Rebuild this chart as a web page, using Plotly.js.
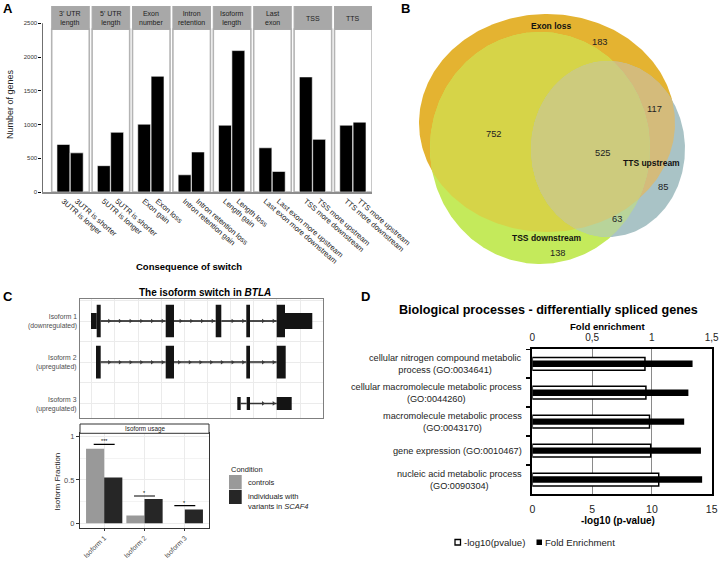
<!DOCTYPE html>
<html><head><meta charset="utf-8">
<script src="https://cdn.plot.ly/plotly-3.0.1.min.js"></script>
<style>html,body{margin:0;padding:0;background:#fff}#chart{width:721px;height:561px}</style>
</head><body><div id="chart"></div>
<script>
// ---------------- DATA ----------------
// Panel A
const switchTypes = ["3' UTR<br>length","5' UTR<br>length","Exon<br>number","Intron<br>retention","Isoform<br>length","Last<br>exon","TSS","TTS"];
const consequenceFirst = ["3UTR is longer","5UTR is longer","Exon gain","Intron retention gain","Length gain","Last exon more downstream","TSS more downstream","TTS more downstream"];
const consequenceSecond = ["3UTR is shorter","5UTR is shorter","Exon loss","Intron retention loss","Length loss","Last exon more upstream","TSS more upstream","TTS more upstream"];
const genesFirst = [705, 390, 1005, 255, 990, 655, 1705, 990];
const genesSecond = [580, 885, 1715, 593, 2095, 305, 780, 1035];
const genesTicks = [0, 500, 1000, 1500, 2000, 2500];

// Panel B (Venn)
const vennSetNames = ["Exon loss", "TSS downstream", "TTS upstream"];
const vennRegionSets = [[0], [1], [2], [0,1], [0,2], [1,2], [0,1,2]];
const vennRegionCounts = [183, 138, 85, 752, 117, 63, 525];

// Panel C
const isoformNames = ["Isoform 1", "Isoform 2", "Isoform 3"];
const isoformStatus = ["(downregulated)", "(upregulated)", "(upregulated)"];
const iso1ExonStart = [11, 16.7, 85.7, 135.7, 166.3, 196.7, 205];
const iso1ExonEnd   = [16.7, 20.7, 94, 141.3, 170, 205, 232.3];
const iso1ExonKind  = ["utr","cds","cds","cds","cds","cds","utr"];
const iso2ExonStart = [16, 85.7, 166.3, 196.7];
const iso2ExonEnd   = [20.7, 94, 170, 205.7];
const iso2ExonKind  = ["cds","cds","cds","cds"];
const iso3ExonStart = [157.3, 166.7, 196.7];
const iso3ExonEnd   = [160.7, 170, 211.7];
const iso3ExonKind  = ["nc","nc","nc"];
const conditions = ["controls", "individuals with<br>variants in <i>SCAF4</i>"];
const usageControls = [0.86, 0.09, 0.0];
const usageScaf4 = [0.53, 0.28, 0.16];
const sigLabels = ["***", "*", "*"];
const sigHeights = [0.91, 0.315, 0.203];

// Panel D
const goIds = ["GO:0034641","GO:0044260","GO:0043170","GO:0010467","GO:0090304"];
const goTerms = ["cellular nitrogen compound metabolic<br>process (GO:0034641)",
                 "cellular macromolecule metabolic process<br>(GO:0044260)",
                 "macromolecule metabolic process<br>(GO:0043170)",
                 "gene expression (GO:0010467)",
                 "nucleic acid metabolic process<br>(GO:0090304)"];
const negLog10P = [9.42, 9.5, 9.8, 9.9, 10.57];
const foldEnrichment = [1.34, 1.305, 1.27, 1.41, 1.42];
const pTicks = [0, 5, 10, 15];
const foldTicks = [0, 0.5, 1, 1.5];
const foldTickText = ["0", "0,5", "1", "1,5"];

// ---------------- LAYOUT HELPERS ----------------
const W = 721, H = 561;
const px = v => v / W;
const py = v => 1 - v / H;
const FONT = 'Liberation Sans, Arial, Helvetica, sans-serif';
const traces = [], shapes = [], ann = [];
function note(text, x, y, size, opts) {
  const o = Object.assign({xanchor:'center', yanchor:'middle', color:'#000', xref:'paper', yref:'paper', align:'center'}, opts || {});
  ann.push({text, x: o.xref === 'paper' ? px(x) : x, y: o.yref === 'paper' ? py(y) : y,
    xref:o.xref, yref:o.yref, showarrow:false, xanchor:o.xanchor, yanchor:o.yanchor, align:o.align,
    textangle: o.textangle || 0, font:{family:FONT, size, color:o.color}});
}

// ---------------- PANEL A ----------------
const aLeft = 51.7, aUnit = 40.4, aScale = 0.0675;
const facetW = 0.93, off1 = 0.29, off2 = 0.62;
const headBottom = (192 - 29.3) / aScale, aTop = (192 - 6) / aScale;
const xFirst = switchTypes.map((_, i) => i + off1);
const xSecond = switchTypes.map((_, i) => i + off2);
traces.push({type:'bar', x:xFirst, y:genesFirst, width:0.32, xaxis:'x', yaxis:'y',
  marker:{color:'#000', line:{color:'#fff', width:0.6}}, hoverinfo:'skip', showlegend:false});
traces.push({type:'bar', x:xSecond, y:genesSecond, width:0.32, xaxis:'x', yaxis:'y',
  marker:{color:'#000', line:{color:'#fff', width:0.6}}, hoverinfo:'skip', showlegend:false});
switchTypes.forEach((name, i) => {
  shapes.push({type:'rect', xref:'x', yref:'y', x0:i, x1:i+facetW, y0:0, y1:headBottom,
    line:{color:'#b4b4b4', width:1.6}, fillcolor:'#fff', layer:'below'});
  shapes.push({type:'rect', xref:'x', yref:'y', x0:i, x1:i+facetW, y0:headBottom, y1:aTop,
    line:{color:'#a9a9a9', width:1}, fillcolor:'#a8a8a8', layer:'below'});
  note(name, i + facetW/2, (192 - 18.2) / aScale, 7, {xref:'x', yref:'y', color:'#222'});
});
shapes.push({type:'line', xref:'x', yref:'y', x0:(42.3-aLeft)/aUnit, x1:(42.3-aLeft)/aUnit, y0:0, y1:2500,
  line:{color:'#000', width:1}});
note('Number of genes', 10, 104, 9, {textangle:-90, color:'#222'});
note('<b>Consequence of switch</b>', 189, 266, 9.5);
note('<b>A</b>', 8, 8, 13);

// ---------------- PANEL B (Venn) ----------------
const vennShape = [{cx:547, cy:123, rx:128, ry:109}, {cx:540, cy:148, rx:110, ry:116}, {cx:608, cy:149, rx:77, ry:88}];
const vennColors = ['#E4B331', '#C4EA5B', '#A9C3C6', '#D6D448', '#D4BB7B', '#B8D49A', '#CDCB7D'];
function ellPts(e, n) { const p = []; for (let k = 0; k < n; k++) { const t = 2*Math.PI*k/n; p.push([e.cx + e.rx*Math.cos(t), e.cy + e.ry*Math.sin(t)]); } return p; }
function inside(e, p) { const dx = (p[0]-e.cx)/e.rx, dy = (p[1]-e.cy)/e.ry; return dx*dx + dy*dy <= 1.0000001; }
function regionPoly(idx) {
  let pts = [];
  idx.forEach(i => ellPts(vennShape[i], 360).forEach(p => { if (idx.every(j => j === i || inside(vennShape[j], p))) pts.push(p); }));
  const mx = pts.reduce((s,p)=>s+p[0],0)/pts.length, my = pts.reduce((s,p)=>s+p[1],0)/pts.length;
  pts.sort((a,b) => Math.atan2(a[1]-my, a[0]-mx) - Math.atan2(b[1]-my, b[0]-mx));
  pts.push(pts[0]);
  return pts;
}
vennRegionSets.forEach((set, r) => {
  const poly = regionPoly(set);
  traces.push({type:'scatter', mode:'lines', x:poly.map(p=>p[0]), y:poly.map(p=>p[1]), fill:'toself',
    fillcolor:vennColors[r], line:{width:0, color:vennColors[r]}, xaxis:'x2', yaxis:'y2', hoverinfo:'skip', showlegend:false});
});
const vennCountPos = [[600,42],[558,253],[663,187],[494,134],[654,109],[617,219],[603,153]];
vennRegionCounts.forEach((c, r) => note(String(c), vennCountPos[r][0], vennCountPos[r][1], 9.3, {xref:'x2', yref:'y2', color:'#222'}));
const vennSetPos = [[551,26],[546,238],[651,163]];
vennSetNames.forEach((s, i) => note('<b>' + s + '</b>', vennSetPos[i][0], vennSetPos[i][1], 8.5, {xref:'x2', yref:'y2', color:'#111'}));
note('<b>B</b>', 405, 8, 13);

// ---------------- PANEL C (gene models) ----------------
const rowH = {cds:0.397, utr:0.194, nc:0.158};
const isoExons = [[iso1ExonStart, iso1ExonEnd, iso1ExonKind], [iso2ExonStart, iso2ExonEnd, iso2ExonKind], [iso3ExonStart, iso3ExonEnd, iso3ExonKind]];
const intronStyle = [{color:'#111', width:1.3}, {color:'#5c5c5c', width:2.2}, {color:'#333', width:1.5}];
isoExons.forEach(([st, en, kd], row) => {
  const lx = [], ly = [], ax = [];
  for (let k = 0; k < st.length - 1; k++) {
    const a = en[k], b = st[k+1];
    if (b - a > 1) {
      lx.push(a, b, null); ly.push(row, row, null);
      for (let x = b - 3; x > a + 4; x -= 10.7) ax.push(x);
    }
  }
  traces.push({type:'scatter', mode:'lines', x:lx, y:ly, line:intronStyle[row], xaxis:'x3', yaxis:'y3', hoverinfo:'skip', showlegend:false});
  traces.push({type:'scatter', mode:'markers', x:ax, y:ax.map(()=>row), marker:{symbol:'triangle-right', size:4, color:'#3a3a3a'},
    xaxis:'x3', yaxis:'y3', hoverinfo:'skip', showlegend:false});
  st.forEach((s, k) => shapes.push({type:'rect', xref:'x3', yref:'y3', x0:s, x1:en[k], y0:row - rowH[kd[k]], y1:row + rowH[kd[k]],
    fillcolor:'#141414', line:{width:0}}));
  note(isoformNames[row] + '<br>' + isoformStatus[row], 79, 321.7 + 41.2*row, 6.8, {xanchor:'right', align:'right', color:'#4d4d4d'});
});
note('<b>The isoform switch in <i>BTLA</i></b>', 205, 292.5, 10);
note('<b>C</b>', 8, 296, 13);

// ---------------- PANEL C (usage) ----------------
traces.push({type:'bar', x:isoformNames, y:usageControls, offset:-0.45, width:0.45, marker:{color:'#999999'},
  xaxis:'x4', yaxis:'y4', hoverinfo:'skip', showlegend:false});
traces.push({type:'bar', x:isoformNames, y:usageScaf4, offset:0, width:0.45, marker:{color:'#262626'},
  xaxis:'x4', yaxis:'y4', hoverinfo:'skip', showlegend:false});
sigHeights.forEach((h, i) => {
  shapes.push({type:'line', xref:'x4', yref:'y4', x0:i-0.26, x1:i+0.26, y0:h, y1:h, line:{color:'#000', width:1.2}});
  note(sigLabels[i], i, h + 0.035, 5.5, {xref:'x4', yref:'y4'});
});
shapes.push({type:'rect', xref:'paper', yref:'paper', x0:px(80), x1:px(209), y0:py(433.3), y1:py(424), fillcolor:'#fff', line:{color:'#333', width:1}});
note('Isoform usage', 144.5, 428.8, 6.3, {color:'#222'});
note('Isoform Fraction', 56.5, 482, 8, {textangle:-90, color:'#222'});
note('Condition', 229, 469.5, 7.5, {xanchor:'left', color:'#222'});
const swatch = ['#999999', '#262626'];
const swY = [[475, 489.3], [490, 504]];
conditions.forEach((c, i) => {
  shapes.push({type:'rect', xref:'paper', yref:'paper', x0:px(229), x1:px(241.7), y0:py(swY[i][1]), y1:py(swY[i][0]), fillcolor:swatch[i], line:{width:0}});
});
note(conditions[0], 245.5, 482, 7.5, {xanchor:'left', align:'left', color:'#222'});
note(conditions[1], 245.5, 501, 7.5, {xanchor:'left', align:'left', color:'#222'});

// ---------------- PANEL D ----------------
traces.push({type:'bar', orientation:'h', y:goIds, x:negLog10P, width:0.44, xaxis:'x5', yaxis:'y5',
  marker:{color:'#fff', line:{color:'#000', width:1.5}}, hoverinfo:'skip', showlegend:false});
traces.push({type:'bar', orientation:'h', y:goIds, x:foldEnrichment, width:0.22, xaxis:'x6', yaxis:'y5',
  marker:{color:'#000', line:{width:0}}, hoverinfo:'skip', showlegend:false});
goIds.forEach((g, i) => note(goTerms[i], 524, g, 9.2, {yref:'y5', xanchor:'right', align:'center', color:'#222'}));
note('<b>Biological processes - differentially spliced genes</b>', 548.5, 310, 12.6);
note('<b>Fold enrichment</b>', 607, 326, 9.6);
note('<b>-log10 (p-value)</b>', 618.3, 520, 10);
shapes.push({type:'rect', xref:'paper', yref:'paper', x0:px(455), x1:px(460.5), y0:py(545), y1:py(539.5), fillcolor:'#fff', line:{color:'#000', width:1.3}});
shapes.push({type:'rect', xref:'paper', yref:'paper', x0:px(536.5), x1:px(542), y0:py(545), y1:py(539.5), fillcolor:'#000', line:{width:0}});
note('-log10(pvalue)', 461.5, 542.3, 9.6, {xanchor:'left', color:'#222'});
note('Fold Enrichment', 543.3, 542.3, 9.6, {xanchor:'left', color:'#222'});
note('<b>D</b>', 365, 296, 13);

// ---------------- AXES ----------------
const hidden = {showgrid:false, zeroline:false, showticklabels:false, ticks:'', showline:false};
const layout = {
  width:W, height:H, margin:{l:0, r:0, t:0, b:0}, paper_bgcolor:'#fff', plot_bgcolor:'rgba(0,0,0,0)',
  font:{family:FONT, color:'#222'}, barmode:'overlay', showlegend:false,
  xaxis:{domain:[px(42.3), px(372)], range:[(42.3-aLeft)/aUnit, (372-aLeft)/aUnit], anchor:'y',
    tickvals:xFirst.concat(xSecond), ticktext:consequenceFirst.concat(consequenceSecond), tickangle:41,
    tickfont:{size:7.5, color:'#222'}, ticks:'', showline:true, linecolor:'#8c8c8c', linewidth:2, showgrid:false, zeroline:false},
  yaxis:{domain:[py(192), py(6)], range:[0, aTop], anchor:'x', tickvals:genesTicks, ticks:'outside', ticklen:3, tickcolor:'#000',
    tickfont:{size:6, color:'#333'}, showgrid:false, zeroline:false, showline:false},
  xaxis2:Object.assign({domain:[px(380), px(721)], range:[380, 721], anchor:'y2'}, hidden),
  yaxis2:Object.assign({domain:[py(280), py(0)], range:[280, 0], anchor:'x2'}, hidden),
  xaxis3:{domain:[px(80), px(323)], range:[0, 243], anchor:'y3', tick0:11.7, dtick:23.15, showgrid:true, gridcolor:'#ebebeb',
    showticklabels:false, ticks:'', zeroline:false, showline:true, mirror:true, linecolor:'#7f7f7f', linewidth:1},
  yaxis3:{domain:[py(418.3), py(299)], range:[2.362, -0.534], anchor:'x3', tick0:0, dtick:0.5, showgrid:true, gridcolor:'#ebebeb',
    showticklabels:false, ticks:'', zeroline:false, showline:true, mirror:true, linecolor:'#7f7f7f', linewidth:1},
  xaxis4:{domain:[px(80), px(209)], type:'category', categoryorder:'array', categoryarray:isoformNames, range:[-0.6, 2.6], anchor:'y4',
    showgrid:true, gridcolor:'#ebebeb', ticks:'outside', ticklen:2, tickcolor:'#333', tickangle:-45,
    tickfont:{size:6.8, color:'#4d4d4d'}, showline:true, mirror:true, linecolor:'#333', linewidth:1, zeroline:false},
  yaxis4:{domain:[py(528.3), py(433.3)], range:[-0.0577, 1.039], anchor:'x4', tickvals:[0, 0.5, 1], ticktext:['0','0.5','1'],
    ticks:'outside', ticklen:3, tickcolor:'#333', tickfont:{size:7.5, color:'#4d4d4d'}, showgrid:true, gridcolor:'#ebebeb',
    minor:{tickvals:[0.25, 0.75], showgrid:true, gridcolor:'#f3f3f3', ticks:''},
    showline:true, mirror:true, linecolor:'#333', linewidth:1, zeroline:false},
  xaxis5:{domain:[px(532.3), px(711.7)], range:[0, 15], anchor:'y5', tickvals:pTicks, ticks:'outside', ticklen:4, tickcolor:'rgba(0,0,0,0)',
    tickfont:{size:10.5, color:'#222'}, showgrid:true, gridcolor:'#8a8a8a', gridwidth:1, showline:true, mirror:true,
    linecolor:'#000', linewidth:2, zeroline:false},
  xaxis6:{domain:[px(532.3), px(711.7)], overlaying:'x5', side:'top', range:[0, 1.5], anchor:'y5', tickvals:foldTicks, ticktext:foldTickText,
    ticks:'outside', ticklen:3, tickcolor:'rgba(0,0,0,0)', tickfont:{size:10, color:'#222'}, showgrid:false, showline:false, zeroline:false},
  yaxis5:{domain:[py(494), py(349.3)], type:'category', categoryorder:'array', categoryarray:goIds, autorange:'reversed', anchor:'x5',
    tickson:'boundaries', ticks:'outside', ticklen:4, tickwidth:1.5, tickcolor:'#000', showticklabels:false,
    showline:true, mirror:true, linecolor:'#000', linewidth:2, showgrid:false, zeroline:false},
  shapes:shapes, annotations:ann
};
Plotly.newPlot('chart', traces, layout, {staticPlot:true, displayModeBar:false});
</script>
</body></html>
